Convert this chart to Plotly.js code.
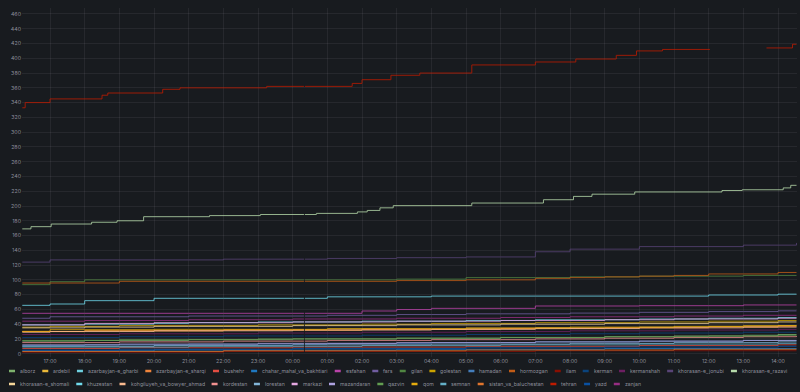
<!DOCTYPE html>
<html><head><meta charset="utf-8">
<script src="https://cdn.plot.ly/plotly-3.0.1.min.js"></script>
<style>html,body{margin:0;padding:0;background:#181b1f;}#chart{width:800px;height:392px;}</style>
</head><body><div id="chart"></div>
<script>
// ---------- DATA ----------
const D1 = '2021-04-10 ', D2 = '2021-04-11 ';
const hours = [D1+'16:12',D1+'17:00',D1+'18:00',D1+'19:00',D1+'20:00',D1+'21:00',D1+'22:00',D1+'23:00',
  D2+'00:00',D2+'01:00',D2+'02:00',D2+'03:00',D2+'04:00',D2+'05:00',D2+'06:00',D2+'07:00',D2+'08:00',
  D2+'09:00',D2+'10:00',D2+'11:00',D2+'12:00',D2+'13:00',D2+'14:00',D2+'14:32'];

// short outage in all series
const gapStart = D2+'00:19:30', gapMid = D2+'00:20:15', gapEnd = D2+'00:21:00';

const tehranTimes = [D1+'16:12',D1+'16:17',D1+'17:00',D1+'18:30',D1+'18:40',D1+'20:15',D1+'20:45',D1+'23:15',
  D2+'01:43',D2+'02:00',D2+'02:50',D2+'03:40',D2+'05:10',D2+'07:00',D2+'08:10',D2+'09:20',D2+'09:55',D2+'10:40',
  D2+'12:02',D2+'12:03',D2+'13:40',D2+'14:25',D2+'14:32'];
const tehran = [333,340,345,350,353,358,360,362,366,371,377,380,391,395,399,404,410,412,412,null,414,419,419];

const razaviTimes = [D1+'16:12',D1+'16:27',D1+'17:02',D1+'18:12',D1+'18:56',D1+'19:42',D1+'21:36',D1+'23:04',
  D2+'00:41',D2+'01:52',D2+'02:09',D2+'02:31',D2+'02:54',D2+'05:10',D2+'07:14',D2+'08:06',D2+'08:38',D2+'09:52',
  D2+'12:23',D2+'12:58',D2+'14:09',D2+'14:22',D2+'14:32'];
const khorasan_e_razavi = [169,172,175.6,178,180,185.5,187,188.5,190,192,194,197.5,200.5,204,208.5,213,216,219,221,222,224.5,228,228];

const khorasan_e_jonubi = [124,127,127,127,127,127,128,128,128,129,129,130,130,131,131,138,141.6,141.6,145,145,145,147,147,150];
const khuzestan  = [65.5,67.3,71.8,71.8,75,75,75,75,75,77,77,77,78,78,78,78,78,78,78,78,79.5,79.5,80.6,80.6];
const gilan      = [93.5,97.5,100,100,100,100,100,100,100,100,100,101,101,103,103,103,104,104,105,105,105,106,106,106];
const hormozgan  = [95.7,95.7,95.7,98,98,98,98,98,98,98,98,99,99,100,100,102,103,104,105,106,108,108,110,110];
const esfahan    = [54.7,54.7,54.7,54.7,54.7,54.7,54.7,54.7,54.7,54.7,57.8,59.8,61.4,61.4,61.4,64.6,64.6,64.6,65,65,65,66,66,66];
const fars       = [48,50,50,50,50,51,51,51,51,52,52,53,53,54,54,54,55,55,56,56,57,57,58,58];
const zanjan     = [44,44,45,45,45,46,46,46,47,47,47,48,48,48,49,49,50,50,50,51,51,52,52,52];
const markazi    = [39,39,41,41,42,42,42,42,43,43,43,44,44,44,45,45,45,46,46,47,47,47,48,48];
const azarbayjan_e_gharbi = [39,39,40,40,41,42,42,43,43,43,44,44,44,45,45,46,46,46,47,47,48,48,49,49];
const golestan   = [36,37,37,38,38,38,38,39,39,39,40,40,41,41,41,42,42,42,43,43,44,44,45,45];
const khorasan_e_shomali = [35,35,36,36,37,37,37,37,38,38,38,39,39,39,40,40,40,41,41,41,42,42,43,43];
const qom        = [30.3,32.5,32.5,32.5,33,33,33,33,33,34,34,34,34,35,35,35,36,36,36,37,37,38,38,38];
const ardebil    = [30,30,31,31,31,31,32,32,32,32,33,33,33,34,34,35,35,35,36,36,37,37,38,38];
const azarbayjan_e_sharqi = [30,30,31,31,31,31,32,32,32,32,33,33,33,33,34,34,34,35,35,35,36,36,37,37];
const kohgiluyeh_va_bowyer_ahmad = [29,30,30,30,31,31,31,31,32,32,32,32,33,33,33,34,34,34,35,35,35,36,36,36];
const kermanshah = [26,26,26,27,27,27,27,28,28,28,29,29,29,30,30,30,31,31,31,32,32,32,33,33];
const kerman     = [22,22,22,23,23,23,24,24,24,24,25,25,25,26,26,26,27,27,28,28,28,29,29,29];
const qazvin     = [18,18,18,19,19,19,19,20,20,20,20,21,21,21,22,22,22,23,23,23,24,24,25,25];
const alborz     = [17,17,18,18,18,19,19,19,20,20,20,21,21,21,22,22,22,23,23,24,24,25,26,26];
const kordestan  = [15,15,15,16,16,16,17,17,17,18,18,18,19,19,19,20,20,21,21,22,22,23,23,24];
const mazandaran = [12,12,12,13,13,13,13,14,14,14,14,15,15,15,15,16,16,16,17,17,17,18,18,18];
const hamadan    = [11,11,12,12,12,13,13,13,13,14,14,14,15,15,15,16,16,16,17,17,17,18,18,18];
const lorestan   = [10,10,10,10,11,11,11,11,12,12,12,12,13,13,13,13,14,14,14,15,15,15,16,16];
const semnan     = [9,9,9,9,9,10,10,10,10,10,11,11,11,11,12,12,12,12,13,13,13,13,14,14];
const bushehr    = [7,7,7,8,8,8,8,8,9,9,9,9,9,10,10,10,10,10,11,11,11,11,12,12];
const yazd       = [5,5,5,6,6,6,6,6,7,7,7,7,7,8,8,8,8,9,9,9,9,9,10,10];
const chahar_mahal_va_bakhtiari = [4,4,4,4,5,5,5,5,5,5,5,6,6,6,6,6,6,7,7,7,7,7,7,7];
const sistan_va_baluchestan = [3,3,3,3,3,3,4,4,4,4,4,4,4,5,5,5,5,5,5,6,6,6,6,6];
const ilam       = [2,2,2,2,2,2,3,3,3,3,3,3,3,3,3,4,4,4,4,4,4,4,4,4];

const seriesNames = ['alborz','ardebil','azarbayjan-e_gharbi','azarbayjan-e_sharqi','bushehr','chahar_mahal_va_bakhtiari',
  'esfahan','fars','gilan','golestan','hamadan','hormozgan','ilam','kerman','kermanshah','khorasan-e_jonubi',
  'khorasan-e_razavi','khorasan-e_shomali','khuzestan','kohgiluyeh_va_bowyer_ahmad','kordestan','lorestan','markazi',
  'mazandaran','qazvin','qom','semnan','sistan_va_baluchestan','tehran','yazd','zanjan'];
const seriesColors = ['#7EB26D','#EAB839','#6ED0E0','#EF843C','#E24D42','#1F78C1','#BA43A9','#705DA0','#508642','#CCA300',
  '#447EBC','#C15C17','#890F02','#0A437C','#6D1F62','#584477','#B7DBAB','#F4D598','#70DBED','#F9BA8F','#F29191',
  '#82B5D8','#E5A8E2','#AEA2E0','#629E51','#E5AC0E','#64B0C8','#E0752D','#BF1B00','#0A50A1','#962D82'];

const seriesData = {
  'alborz':[hours,alborz],'ardebil':[hours,ardebil],'azarbayjan-e_gharbi':[hours,azarbayjan_e_gharbi],
  'azarbayjan-e_sharqi':[hours,azarbayjan_e_sharqi],'bushehr':[hours,bushehr],
  'chahar_mahal_va_bakhtiari':[hours,chahar_mahal_va_bakhtiari],'esfahan':[hours,esfahan],'fars':[hours,fars],
  'gilan':[hours,gilan],'golestan':[hours,golestan],'hamadan':[hours,hamadan],'hormozgan':[hours,hormozgan],
  'ilam':[hours,ilam],'kerman':[hours,kerman],'kermanshah':[hours,kermanshah],'khorasan-e_jonubi':[hours,khorasan_e_jonubi],
  'khorasan-e_razavi':[razaviTimes,khorasan_e_razavi],'khorasan-e_shomali':[hours,khorasan_e_shomali],
  'khuzestan':[hours,khuzestan],'kohgiluyeh_va_bowyer_ahmad':[hours,kohgiluyeh_va_bowyer_ahmad],'kordestan':[hours,kordestan],
  'lorestan':[hours,lorestan],'markazi':[hours,markazi],'mazandaran':[hours,mazandaran],'qazvin':[hours,qazvin],
  'qom':[hours,qom],'semnan':[hours,semnan],'sistan_va_baluchestan':[hours,sistan_va_baluchestan],
  'tehran':[tehranTimes,tehran],'yazd':[hours,yazd],'zanjan':[hours,zanjan]
};

// insert the missing-sample break: the held step value stops at gapStart and resumes at gapEnd
function withGap(ts, vs) {
  const X = [], Y = [];
  let held = null, done = false;
  for (let i = 0; i < ts.length; i++) {
    if (!done && ts[i] > gapStart) {
      X.push(gapStart, gapMid, gapEnd); Y.push(held, null, held);
      done = true;
    }
    X.push(ts[i]); Y.push(vs[i]); held = vs[i];
  }
  return [X, Y];
}

// ---------- CHART ----------
const M = {l:22, r:3, t:8, b:35};
const W = 800, H = 392;
const pw = W - M.l - M.r, ph = H - M.t - M.b;
const FONT = 'Inter, "Open Sans", sans-serif';
const TXT = 'rgba(204,204,220,0.65)';

const traces = seriesNames.map((n,i)=>{
  const [gx, gy] = withGap(seriesData[n][0], seriesData[n][1]);
  return {
    type:'scatter', mode:'lines', name:n, x:gx, y:gy,
    line:{color:seriesColors[i], width:1, shape:'hv'}, opacity:0.8,
    connectgaps:false, showlegend:false, hoverinfo:'skip'
  };
});

// legend built as text + short line markers
const shapes = [], annotations = [];
const ctx = document.createElement('canvas').getContext('2d');
const LFS = 5.2;
ctx.font = LFS + 'px Inter';
let lx = 9, row = 0;
const rowY = [371, 384];
seriesNames.forEach((n,i)=>{
  const tw = ctx.measureText(n).width;
  const itemW = 7 + 4 + tw + 7;
  if (lx + itemW - 7 > 796) { row++; lx = 9; }
  const py = rowY[Math.min(row,1)];
  const yp = (H - M.b - py) / ph;
  shapes.push({type:'line', xref:'paper', yref:'paper', x0:(lx-M.l)/pw, x1:(lx+6-M.l)/pw, y0:yp, y1:yp,
    line:{color:seriesColors[i], width:2.5}});
  annotations.push({xref:'paper', yref:'paper', x:(lx+10-M.l)/pw, y:yp, xanchor:'left', yanchor:'middle',
    text:n, showarrow:false, borderpad:0, font:{family:FONT, size:LFS, color:TXT}});
  lx += itemW;
});

const layout = {
  width:W, height:H, margin:M,
  paper_bgcolor:'#181b1f', plot_bgcolor:'#181b1f',
  showlegend:false,
  font:{family:FONT, size:5.3, color:TXT},
  xaxis:{type:'date', range:[D1+'16:11:30', D2+'14:32:50'], dtick:3600000, tick0:D1+'17:00',
    tickformat:'%H:%M', showgrid:true, gridcolor:'rgba(204,204,220,0.08)', gridwidth:1,
    zeroline:false, showline:false, ticks:'', tickfont:{size:5.3, color:TXT}},
  yaxis:{range:[-4.47,468.1], dtick:20, tick0:0, showgrid:true, gridcolor:'rgba(204,204,220,0.08)', gridwidth:1,
    zeroline:false, showline:false, ticks:'', tickfont:{size:5.3, color:TXT}},
  shapes:shapes, annotations:annotations
};
Plotly.newPlot('chart', traces, layout, {displayModeBar:false, staticPlot:true});
</script></body></html>
